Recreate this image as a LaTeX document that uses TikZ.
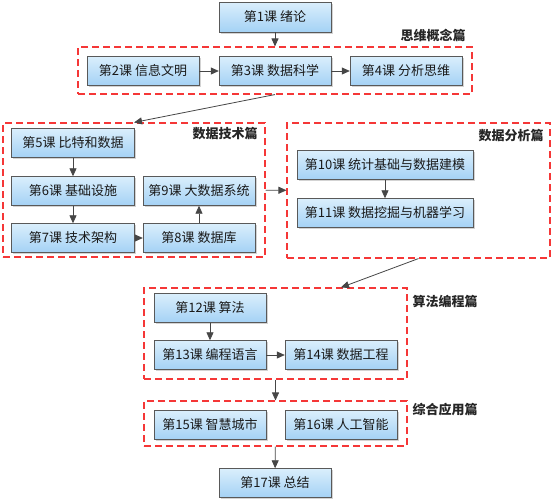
\documentclass[tikz,border=0pt]{standalone}
\usepackage{fontspec}
\setmainfont{Noto Sans CJK SC}
\usepackage{tikz}
\usetikzlibrary{arrows.meta, shadows}
\definecolor{lessontop}{RGB}{218, 238, 252}
\definecolor{lessonblue}{RGB}{164, 210, 245}
\definecolor{framered}{RGB}{245, 55, 55}
\definecolor{linkgray}{RGB}{70, 70, 70}

\begin{document}
\begin{tikzpicture}[x=1pt, y=-1pt,
    lesson/.style={draw=black!65, top color=lessontop, bottom color=lessonblue,
      minimum width=112pt, minimum height=29pt, inner sep=0pt,
      font=\fontsize{13}{15}\selectfont, text=black!90,
      drop shadow={shadow xshift=1.5pt, shadow yshift=-1.5pt, opacity=0.35}},
    part/.style={draw=framered, dash pattern=on 7pt off 4pt, line width=1.1pt},
    partname/.style={font=\fontsize{13}{15}\selectfont\bfseries, text=black!85},
    link/.style={-{Triangle[length=8pt, width=7pt]}, draw=linkgray, line width=0.8pt}]
    \useasboundingbox (0,0) rectangle (554,501);
    % parts
    \node[part, minimum width=394pt, minimum height=47pt] (g1) at (275, 70.5) {};
    \node[part, minimum width=262pt, minimum height=134pt] (g2) at (134, 190) {};
    \node[part, minimum width=263pt, minimum height=135pt] (g3) at (418.5, 190.5) {};
    \node[part, minimum width=263pt, minimum height=91pt] (g4) at (275.5, 333.5) {};
    \node[part, minimum width=263pt, minimum height=45pt] (g5) at (275.5, 423.5) {};
    \node[partname] (n1) at (433, 35) {思维概念篇};
    \node[partname] (n2) at (225, 134) {数据技术篇};
    \node[partname] (n3) at (511, 136) {数据分析篇};
    \node[partname] (n4) at (445, 302) {算法编程篇};
    \node[partname] (n5) at (445, 410) {综合应用篇};
    % lessons
    \node[lesson, minimum height=30pt] (l1) at (275, 17) {第1课 绪论};
    \node[lesson] (l2) at (143, 71) {第2课 信息文明};
    \node[lesson] (l3) at (275, 71) {第3课 数据科学};
    \node[lesson] (l4) at (406, 71) {第4课 分析思维};
    \node[lesson, minimum width=123pt] (l5) at (73, 143) {第5课 比特和数据};
    \node[lesson, minimum width=123pt] (l6) at (73, 191) {第6课 基础设施};
    \node[lesson, minimum width=123pt] (l7) at (73, 238) {第7课 技术架构};
    \node[lesson] (l8) at (199, 238) {第8课 数据库};
    \node[lesson] (l9) at (199, 191) {第9课 大数据系统};
    \node[lesson, minimum width=176pt] (l10) at (385, 165) {第10课 统计基础与数据建模};
    \node[lesson, minimum width=176pt] (l11) at (385, 213) {第11课 数据挖掘与机器学习};
    \node[lesson] (l12) at (210, 308) {第12课 算法};
    \node[lesson] (l13) at (210, 355) {第13课 编程语言};
    \node[lesson] (l14) at (341, 355) {第14课 数据工程};
    \node[lesson] (l15) at (210, 425) {第15课 智慧城市};
    \node[lesson] (l16) at (341, 425) {第16课 人工智能};
    \node[lesson] (l17) at (275, 483) {第17课 总结};
    % links
    \draw[link] (l1) -- (g1);
    \draw[link] (l2) -- (l3);
    \draw[link] (l3) -- (l4);
    \draw[link] (g1.south) -- (g2.north);
    \draw[link] (l5) -- (l6);
    \draw[link] (l6) -- (l7);
    \draw[link] (l7) -- (l8);
    \draw[link] (l8) -- (l9);
    \draw[link] (g2) -- (g3);
    \draw[link] (l10) -- (l11);
    \draw[link] (g3.south) -- (g4.north -| l14);
    \draw[link] (l12) -- (l13);
    \draw[link] (l13) -- (l14);
    \draw[link] (g4) -- (g5);
    \draw[link] (g5) -- (l17);
\end{tikzpicture}
\end{document}
